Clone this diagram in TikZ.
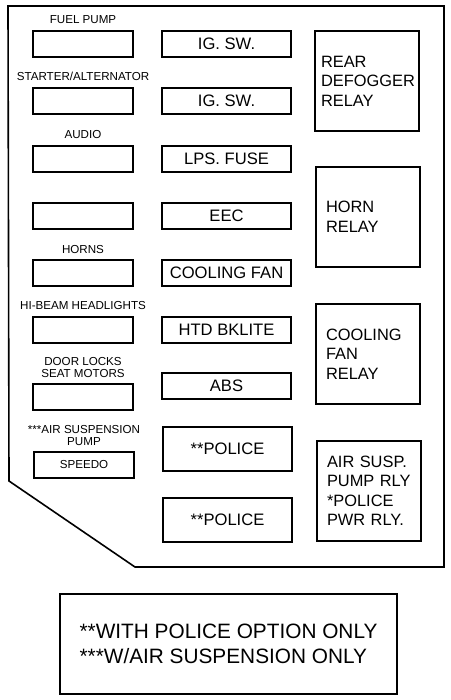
\documentclass[tikz,border=0pt]{standalone}
\usepackage{fontspec}
\setmainfont{Liberation Sans}
\usetikzlibrary{positioning}

\begin{document}
\begin{tikzpicture}[x=1pt,y=-1pt,line width=1.6pt,
    fuse/.style={draw,minimum width=100pt,minimum height=26pt,inner sep=0pt,font=\fontsize{11.6}{12}\selectfont},
    tag/.style={inner sep=0pt,align=center,font=\fontsize{11.6}{12}\selectfont},
    wide/.style={draw,minimum width=129pt,minimum height=26pt,inner sep=0pt,font=\fontsize{16.6}{20}\selectfont},
    relay/.style={draw,minimum width=104pt,minimum height=100pt,inner xsep=10pt,text width=84pt,align=left,font=\fontsize{16.4}{19.5}\selectfont}]
          \useasboundingbox (0,0) rectangle (450,700);

          \draw (8,6) -- (444,6) -- (444,567) -- (135,567) -- (9,481) -- cycle;

          \node[fuse] (fuel)   at (83,44)  {};
          \node[fuse] (start)  at (83,101) {};
          \node[fuse] (audio)  at (83,159) {};
          \node[fuse] (spare)  at (83,216) {};
          \node[fuse] (horns)  at (83,273) {};
          \node[fuse] (hibeam) at (83,330) {};
          \node[fuse] (locks)  at (83,397) {};
          \node[fuse] (speedo) at (84,465) {SPEEDO};

          \node[tag,above=6pt of fuel]   (fuelt)   {FUEL PUMP};
          \node[tag,above=6pt of start]  (startt)  {STARTER/ALTERNATOR};
          \node[tag,above=6pt of audio]  (audiot)  {AUDIO};
          \node[tag,above=5pt of horns]  (hornst)  {HORNS};
          \node[tag,above=6pt of hibeam] (hibeamt) {HI-BEAM HEADLIGHTS};
          \node[tag,above=5pt of locks]  (lockst)  {DOOR LOCKS\\SEAT MOTORS};
          \node[tag,above=5pt of speedo] (speedot) {***AIR SUSPENSION\\PUMP};

          \node[wide] (ig1)    at (226.5,44)  {IG. SW.};
          \node[wide] (ig2)    at (226.5,101) {IG. SW.};
          \node[wide] (lps)    at (226.5,159) {LPS. FUSE};
          \node[wide] (eec)    at (226.5,216) {EEC};
          \node[wide] (fan)    at (226.5,273) {COOLING FAN};
          \node[wide] (bklite) at (226.5,330) {HTD BKLITE};
          \node[wide] (abs)    at (226.5,386) {ABS};
          \node[wide,minimum height=44pt] (pol1) at (227.5,449) {**POLICE};
          \node[wide,minimum height=44pt] (pol2) at (227.5,520) {**POLICE};

          \node[relay,inner xsep=6pt,text width=92pt] (defog) at (367,81) {REAR\\DEFOGGER\\RELAY};
          \node[relay] (horn)   at (368,217) {HORN\\RELAY};
          \node[relay] (fanrly) at (368,354) {COOLING\\FAN\\RELAY};
          \node[relay] (airrly) at (369,491) {AIR SUSP.\\PUMP RLY\\{}*POLICE\\PWR RLY.};

          \node[draw,minimum width=337pt,minimum height=100pt,align=left,font=\fontsize{20.8}{25}\selectfont] (note) at (228.5,644)
            {**WITH POLICE OPTION ONLY\\***W/AIR SUSPENSION ONLY};

        \end{tikzpicture}
\end{document}
